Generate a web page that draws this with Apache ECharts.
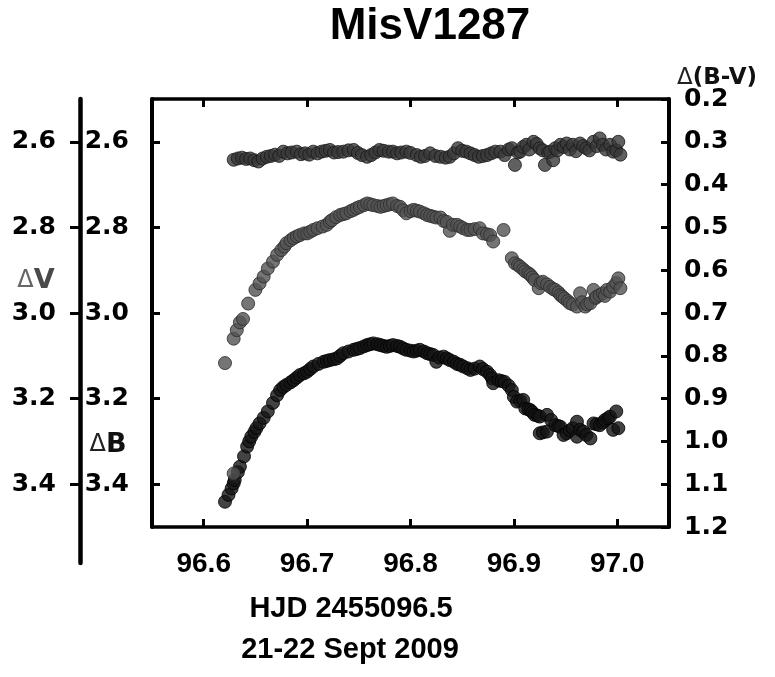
<!DOCTYPE html>
<html><head><meta charset="utf-8">
<script src="https://cdn.jsdelivr.net/npm/echarts@6/dist/echarts.min.js"></script>
<style>html,body{margin:0;padding:0;background:#fff}#c{width:775px;height:677px}</style>
</head><body><div id="c"></div>
<script>
// Δ(B-V) series (top band, right axis)
const hjdBV = [96.629,96.633,96.637,96.641,96.645,96.649,96.653,96.657,96.661,96.665,96.669,96.673,96.677,96.681,96.685,96.690,96.694,96.698,96.702,96.706,96.710,96.714,96.718,96.722,96.726,96.730,96.735,96.740,96.745,96.749,96.753,96.758,96.762,96.766,96.770,96.774,96.779,96.783,96.787,96.791,96.796,96.800,96.806,96.810,96.814,96.819,96.824,96.829,96.834,96.838,96.842,96.846,96.850,96.854,96.858,96.862,96.866,96.870,96.874,96.878,96.882,96.887,96.891,96.895,96.898,96.901,96.904,96.906,96.909,96.912,96.915,96.919,96.922,96.925,96.928,96.930,96.933,96.935,96.938,96.940,96.942,96.945,96.948,96.951,96.954,96.957,96.960,96.964,96.967,96.970,96.973,96.977,96.980,96.983,96.986,96.989,96.993,96.996,96.999,97.001,97.003];
const dBV = [0.342,0.339,0.337,0.340,0.339,0.343,0.346,0.339,0.335,0.333,0.330,0.333,0.323,0.327,0.325,0.323,0.329,0.327,0.330,0.323,0.327,0.323,0.321,0.319,0.325,0.324,0.323,0.320,0.319,0.326,0.331,0.335,0.331,0.325,0.319,0.321,0.323,0.323,0.327,0.325,0.323,0.326,0.331,0.335,0.333,0.327,0.333,0.335,0.337,0.335,0.327,0.315,0.321,0.323,0.327,0.331,0.335,0.333,0.331,0.327,0.323,0.323,0.331,0.318,0.315,0.354,0.325,0.323,0.312,0.307,0.318,0.300,0.305,0.315,0.320,0.354,0.325,0.323,0.343,0.315,0.320,0.307,0.312,0.304,0.318,0.307,0.322,0.304,0.310,0.315,0.320,0.300,0.310,0.292,0.307,0.318,0.307,0.323,0.320,0.300,0.330];

// ΔV series (middle curve)
const hjdV = [96.6206,96.629,96.629,96.632,96.635,96.638,96.643,96.650,96.654,96.658,96.662,96.667,96.671,96.675,96.678,96.680,96.684,96.687,96.690,96.693,96.697,96.700,96.703,96.706,96.710,96.715,96.719,96.722,96.724,96.728,96.732,96.735,96.738,96.742,96.745,96.748,96.751,96.755,96.758,96.761,96.764,96.768,96.771,96.774,96.777,96.780,96.783,96.787,96.790,96.793,96.796,96.800,96.803,96.806,96.809,96.813,96.816,96.819,96.822,96.825,96.829,96.832,96.835,96.838,96.841,96.845,96.848,96.851,96.855,96.858,96.862,96.867,96.870,96.874,96.877,96.880,96.890,96.898,96.901,96.904,96.906,96.909,96.911,96.914,96.916,96.918,96.920,96.924,96.926,96.928,96.932,96.935,96.938,96.940,96.943,96.945,96.947,96.949,96.952,96.954,96.957,96.961,96.964,96.966,96.969,96.971,96.974,96.977,96.979,96.980,96.983,96.986,96.988,96.990,96.993,96.996,96.999,97.001,97.003];
const dV = [3.117,3.375,3.060,3.040,3.022,3.014,2.978,2.946,2.931,2.915,2.896,2.880,2.864,2.853,2.845,2.837,2.830,2.825,2.821,2.818,2.814,2.814,2.810,2.806,2.802,2.798,2.794,2.787,2.783,2.776,2.771,2.769,2.767,2.762,2.759,2.755,2.752,2.748,2.744,2.746,2.748,2.750,2.752,2.750,2.748,2.746,2.744,2.750,2.752,2.760,2.767,2.762,2.759,2.761,2.763,2.767,2.771,2.773,2.775,2.777,2.777,2.785,2.787,2.808,2.794,2.794,2.798,2.802,2.806,2.806,2.804,2.802,2.814,2.816,2.818,2.833,2.806,2.872,2.884,2.888,2.892,2.898,2.903,2.907,2.911,2.917,2.923,2.942,2.930,2.927,2.933,2.939,2.944,2.946,2.952,2.958,2.962,2.966,2.972,2.977,2.980,2.985,2.954,2.975,2.985,2.980,2.977,2.946,2.965,2.962,2.958,2.954,2.960,2.946,2.950,2.939,2.930,2.919,2.942];

// ΔB series (bottom curve)
const hjdB = [96.6206,96.624,96.627,96.629,96.630,96.633,96.635,96.639,96.642,96.644,96.646,96.649,96.651,96.654,96.658,96.662,96.667,96.671,96.674,96.677,96.680,96.684,96.687,96.690,96.693,96.697,96.700,96.703,96.706,96.711,96.716,96.719,96.722,96.726,96.729,96.732,96.735,96.740,96.745,96.748,96.751,96.755,96.758,96.761,96.764,96.768,96.771,96.774,96.777,96.780,96.783,96.787,96.790,96.793,96.796,96.800,96.803,96.806,96.809,96.813,96.816,96.819,96.822,96.825,96.828,96.832,96.835,96.838,96.842,96.845,96.848,96.851,96.855,96.858,96.862,96.867,96.870,96.874,96.877,96.879,96.880,96.885,96.888,96.891,96.895,96.898,96.900,96.903,96.906,96.909,96.911,96.914,96.916,96.918,96.920,96.923,96.925,96.925,96.928,96.932,96.932,96.936,96.940,96.943,96.945,96.948,96.951,96.954,96.957,96.961,96.961,96.964,96.967,96.970,96.974,96.977,96.980,96.983,96.986,96.988,96.991,96.993,96.996,96.999,97.001];
const dB = [3.441,3.425,3.410,3.398,3.390,3.372,3.359,3.335,3.312,3.300,3.289,3.278,3.269,3.258,3.245,3.230,3.210,3.192,3.180,3.173,3.168,3.162,3.157,3.151,3.145,3.141,3.137,3.131,3.125,3.119,3.114,3.112,3.110,3.108,3.106,3.100,3.094,3.090,3.086,3.084,3.082,3.078,3.075,3.073,3.071,3.073,3.075,3.077,3.079,3.077,3.075,3.077,3.079,3.083,3.086,3.088,3.090,3.088,3.086,3.090,3.094,3.096,3.098,3.114,3.104,3.102,3.106,3.110,3.114,3.119,3.121,3.125,3.129,3.133,3.130,3.125,3.131,3.137,3.145,3.153,3.164,3.157,3.159,3.161,3.170,3.180,3.196,3.207,3.205,3.203,3.223,3.225,3.227,3.232,3.238,3.240,3.242,3.281,3.279,3.238,3.277,3.250,3.262,3.264,3.266,3.285,3.281,3.275,3.269,3.254,3.289,3.273,3.277,3.285,3.293,3.258,3.260,3.262,3.256,3.250,3.246,3.242,3.273,3.230,3.269];

// tick labels
const xTicks = [96.6, 96.7, 96.8, 96.9, 97.0];
const magTicks = [2.6, 2.8, 3.0, 3.2, 3.4];
const bvTicks = [0.2, 0.3, 0.4, 0.5, 0.6, 0.7, 0.8, 0.9, 1.0, 1.1, 1.2];

const zip = (xs, ys) => xs.map((x, i) => [x, ys[i]]);
const yLabelFont = {fontFamily: 'DejaVu Sans', fontWeight: 'bold', fontSize: 25, color: '#000'};
const fmt1 = v => Number(v).toFixed(1);

const chart = echarts.init(document.getElementById('c'), null, {renderer: 'canvas'});
chart.setOption({
  animation: false,
  backgroundColor: '#fff',
  grid: [
    {left: 152, right: 106, top: 99, bottom: 150},
    {left: 80, right: 694, top: 99, bottom: 114}
  ],
  xAxis: [
    {gridIndex: 0, type: 'value', position: 'bottom', min: 96.55, max: 97.05,
     axisLine: {lineStyle: {color: '#000', width: 3.5}},
     axisTick: {inside: true, length: 8, lineStyle: {color: '#000', width: 3}, customValues: xTicks},
     axisLabel: {customValues: xTicks, formatter: fmt1, margin: 23, fontFamily: 'Liberation Sans', fontWeight: 'bold', fontSize: 28, color: '#000'},
     splitLine: {show: false}},
    {gridIndex: 0, type: 'value', position: 'top', min: 96.55, max: 97.05,
     axisLine: {lineStyle: {color: '#000', width: 3.5}},
     axisTick: {inside: true, length: 8, lineStyle: {color: '#000', width: 3}, customValues: xTicks},
     axisLabel: {show: false}, splitLine: {show: false}},
    {gridIndex: 1, type: 'value', min: 0, max: 1, show: false}
  ],
  yAxis: [
    {gridIndex: 0, type: 'value', position: 'left', inverse: true, min: 2.5, max: 3.5,
     axisLine: {lineStyle: {color: '#000', width: 4}},
     axisTick: {inside: true, length: 8, lineStyle: {color: '#000', width: 3}, customValues: magTicks},
     axisLabel: Object.assign({customValues: magTicks, formatter: fmt1, margin: 23}, yLabelFont),
     splitLine: {show: false}},
    {gridIndex: 0, type: 'value', position: 'right', inverse: true, min: 0.2, max: 1.2,
     axisLine: {lineStyle: {color: '#000', width: 4}},
     axisTick: {inside: true, length: 8, lineStyle: {color: '#000', width: 3}, customValues: bvTicks},
     axisLabel: Object.assign({customValues: bvTicks, formatter: fmt1, margin: 15}, yLabelFont),
     splitLine: {show: false}},
    {gridIndex: 1, type: 'value', position: 'left', inverse: true, min: 2.5, max: 3.584,
     axisLine: {lineStyle: {color: '#000', width: 4.5}},
     axisTick: {inside: false, length: 10, lineStyle: {color: '#000', width: 3}, customValues: magTicks},
     axisLabel: Object.assign({customValues: magTicks, formatter: fmt1, margin: 24}, yLabelFont),
     splitLine: {show: false}}
  ],
  series: [
    {name: 'ΔB', type: 'scatter', xAxisIndex: 0, yAxisIndex: 0, data: zip(hjdB, dB), symbolSize: 13,
     itemStyle: {color: '#141414', borderColor: '#000', borderWidth: 1}},
    {name: 'ΔV', type: 'scatter', xAxisIndex: 0, yAxisIndex: 0, data: zip(hjdV, dV), symbolSize: 13,
     itemStyle: {color: '#525252', borderColor: '#2a2a2a', borderWidth: 1}},
    {name: 'Δ(B-V)', type: 'scatter', xAxisIndex: 0, yAxisIndex: 1, data: zip(hjdBV, dBV), symbolSize: 13,
     itemStyle: {color: '#383838', borderColor: '#181818', borderWidth: 1}}
  ],
  graphic: [
    {type: 'text', x: 430, y: 27, style: {text: 'MisV1287', fontFamily: 'Liberation Sans', fontWeight: 'bold', fontSize: 44, fill: '#000', align: 'center', verticalAlign: 'middle'}},
    {type: 'text', x: 351, y: 609, style: {text: 'HJD 2455096.5', fontFamily: 'Liberation Sans', fontWeight: 'bold', fontSize: 29, fill: '#000', align: 'center', verticalAlign: 'middle'}},
    {type: 'text', x: 350, y: 650, style: {text: '21-22 Sept 2009', fontFamily: 'Liberation Sans', fontWeight: 'bold', fontSize: 29, fill: '#000', align: 'center', verticalAlign: 'middle'}},
    {type: 'text', x: 36, y: 281, style: {text: '{a|Δ}{b|V}', align: 'center', verticalAlign: 'middle',
      rich: {a: {fontFamily: 'DejaVu Sans', fontSize: 24, fill: '#666'}, b: {fontFamily: 'DejaVu Sans', fontWeight: 'bold', fontSize: 27, fill: '#4a4a4a'}}}},
    {type: 'text', x: 108, y: 445, style: {text: '{a|Δ}{b|B}', align: 'center', verticalAlign: 'middle',
      rich: {a: {fontFamily: 'DejaVu Sans', fontSize: 24, fill: '#222'}, b: {fontFamily: 'DejaVu Sans', fontWeight: 'bold', fontSize: 27, fill: '#111'}}}},
    {type: 'text', x: 717, y: 78, style: {text: '{a|Δ}{b|(B-V)}', align: 'center', verticalAlign: 'middle',
      rich: {a: {fontFamily: 'DejaVu Sans', fontSize: 23, fill: '#222'}, b: {fontFamily: 'DejaVu Sans', fontWeight: 'bold', fontSize: 23, fill: '#111'}}}}
  ]
});
</script>
</body></html>
